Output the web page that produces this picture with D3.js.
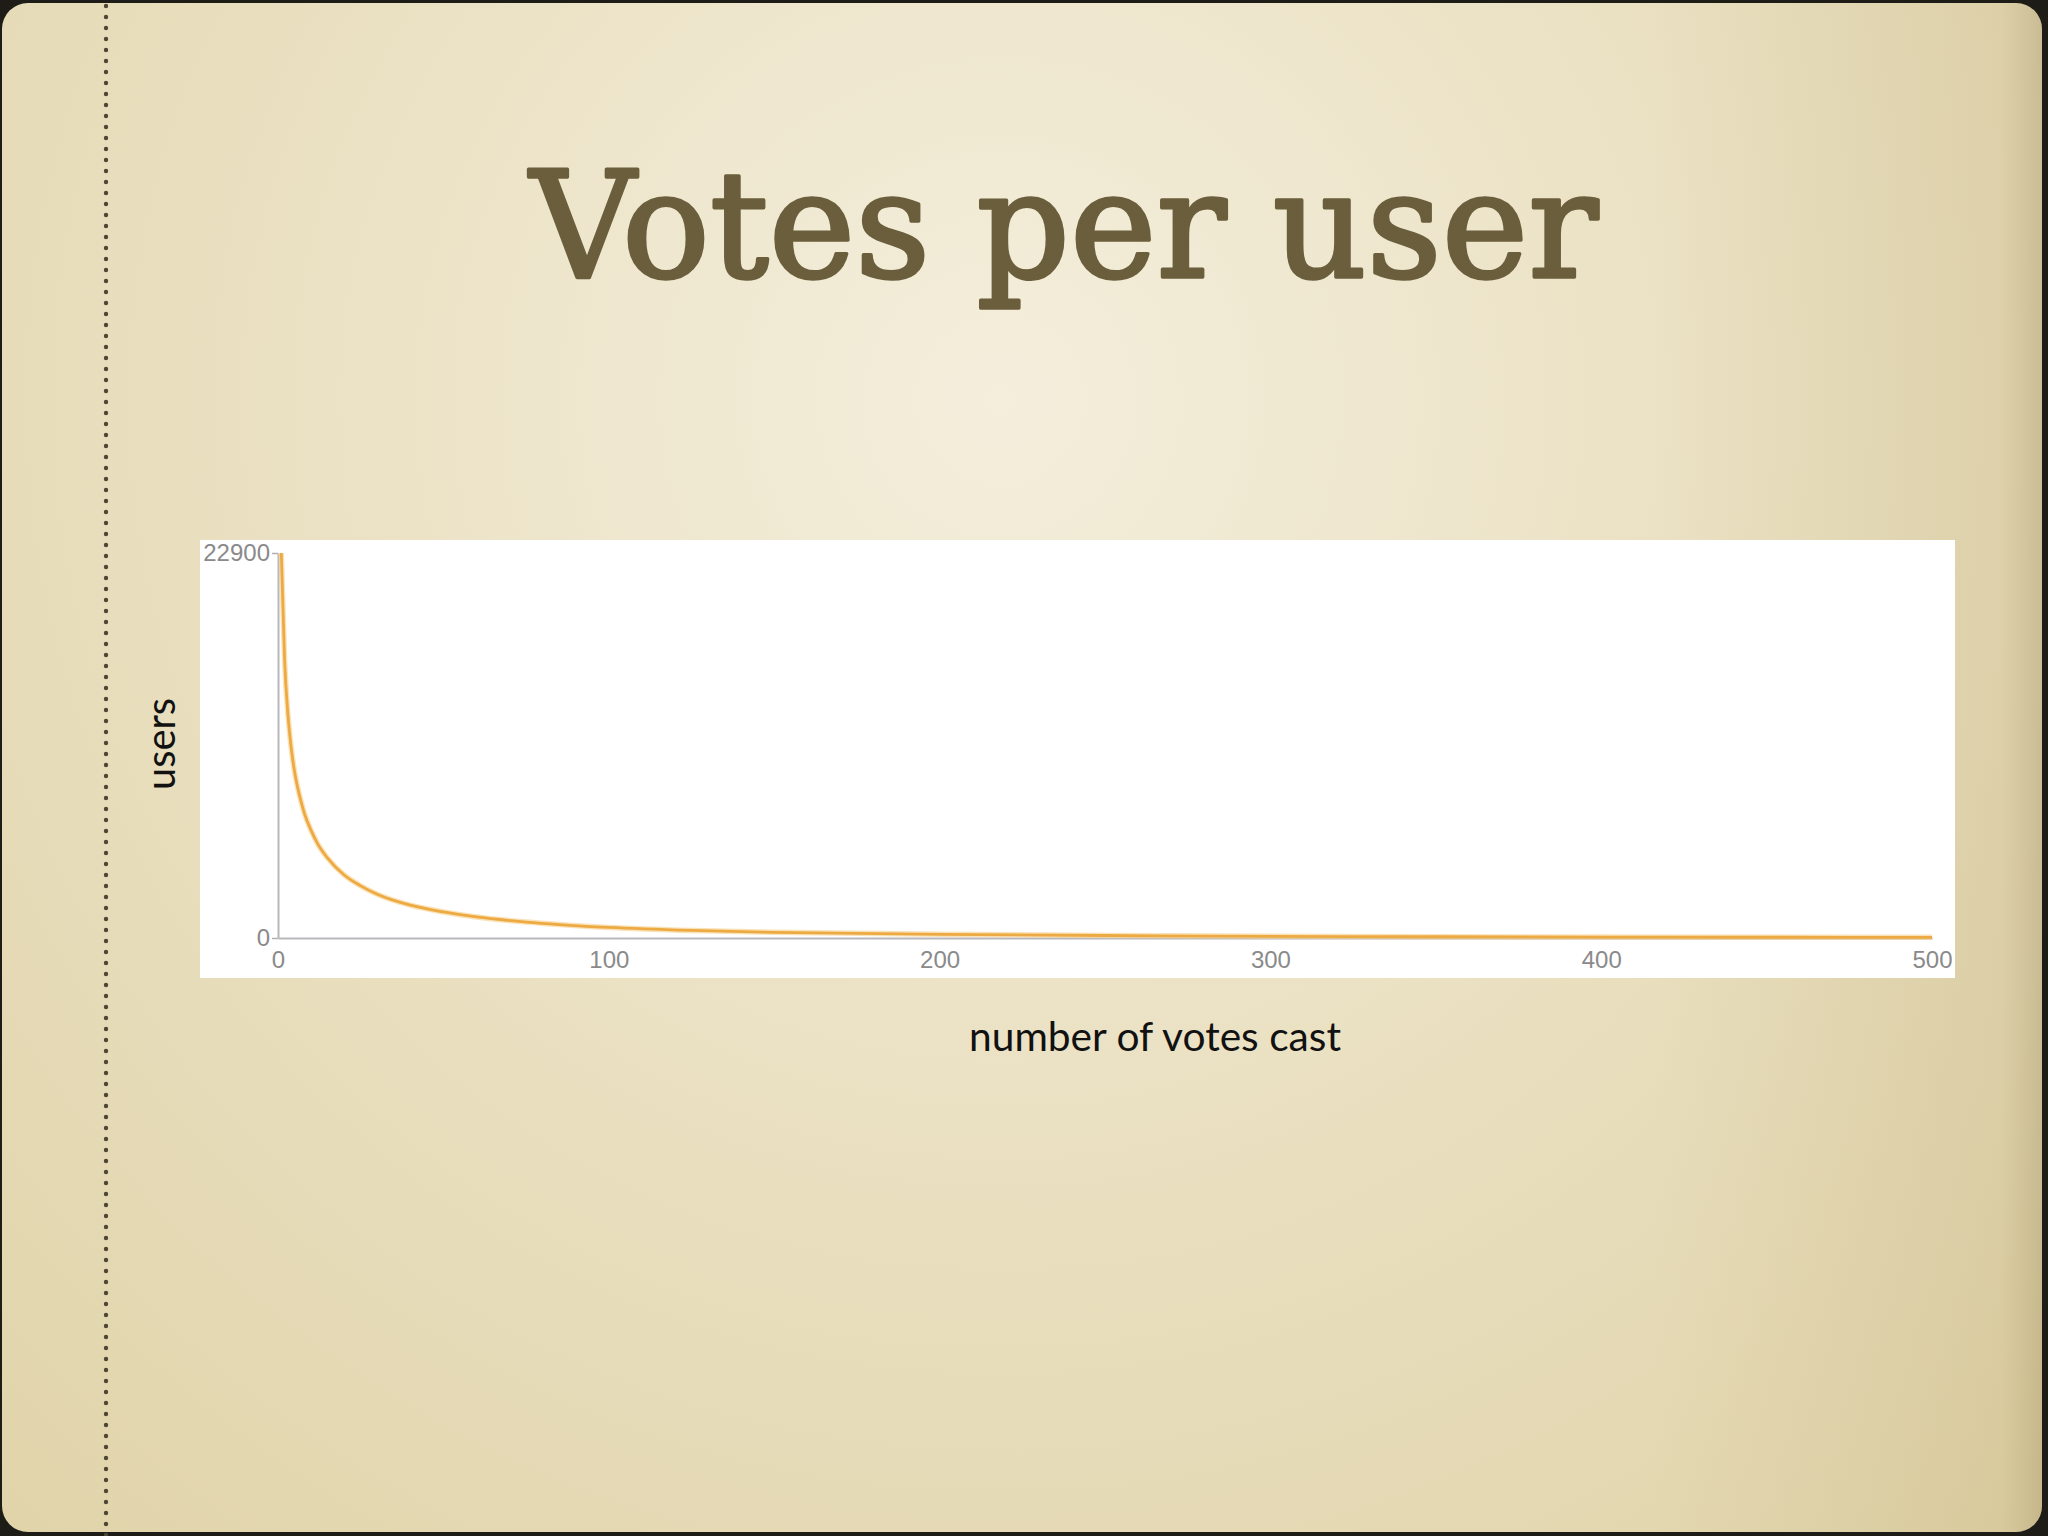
<!DOCTYPE html>
<html>
<head>
<meta charset="utf-8">
<script src="https://cdn.jsdelivr.net/npm/d3@7"></script>
<style>
  html, body { margin: 0; padding: 0; background: #1e1c17; }
  svg { display: block; }
</style>
</head>
<body>
<svg id="chart" width="2048" height="1536"></svg>
<script>
// ---- data ----
const titleText = "Votes per user";
const xLabel = "number of votes cast";
const yLabel = "users";
const votes = [1, 2, 3, 4, 5, 6, 7, 8, 10, 12, 15, 20, 25, 30, 40, 50, 60, 75, 85, 100, 125, 150, 200, 250, 300, 350, 400, 450, 500];
const users = [22900, 16500, 13300, 11300, 9900, 8900, 8100, 7400, 6400, 5600, 4750, 3750, 3100, 2600, 1950, 1550, 1250, 950, 800, 630, 450, 340, 220, 150, 100, 75, 58, 46, 38];
const xTicks = [0, 100, 200, 300, 400, 500];
const yTicks = [0, 22900];

const svg = d3.select("#chart");
const defs = svg.append("defs");

const bg = defs.append("radialGradient").attr("id", "bg")
  .attr("gradientUnits", "userSpaceOnUse")
  .attr("cx", 1000).attr("cy", 400).attr("r", 1500);
bg.append("stop").attr("offset", "0%").attr("stop-color", "#f4eedc");
bg.append("stop").attr("offset", "55%").attr("stop-color", "#e9dfbf");
bg.append("stop").attr("offset", "100%").attr("stop-color", "#e1d4aa");

const edge = defs.append("linearGradient").attr("id", "edge")
  .attr("gradientUnits", "userSpaceOnUse")
  .attr("x1", 1650).attr("y1", 0).attr("x2", 2048).attr("y2", 0);
edge.append("stop").attr("offset", "0%").attr("stop-color", "#9a8040").attr("stop-opacity", 0);
edge.append("stop").attr("offset", "88%").attr("stop-color", "#9a8040").attr("stop-opacity", 0.12);
edge.append("stop").attr("offset", "100%").attr("stop-color", "#6a5525").attr("stop-opacity", 0.26);

// slide
svg.append("rect").attr("x", 0).attr("y", 0).attr("width", 2048).attr("height", 1536)
  .attr("fill", "#1e1c17");
svg.append("rect").attr("x", 2).attr("y", 3).attr("width", 2040).attr("height", 1529)
  .attr("rx", 26).attr("ry", 26).attr("fill", "url(#bg)");
svg.append("rect").attr("x", 2).attr("y", 3).attr("width", 2040).attr("height", 1529)
  .attr("rx", 26).attr("ry", 26).attr("fill", "url(#edge)");

// dotted margin line
const dots = d3.range(6, 1536, 11);
svg.append("g").selectAll("circle").data(dots).join("circle")
  .attr("cx", 106).attr("cy", d => d).attr("r", 2.2).attr("fill", "#4d4634");

// title
svg.append("text").text(titleText)
  .attr("x", 1064).attr("y", 277)
  .attr("text-anchor", "middle")
  .attr("font-family", "'DejaVu Serif', serif")
  .attr("font-size", 148)
  .attr("textLength", 1068).attr("lengthAdjust", "spacingAndGlyphs")
  .attr("fill", "#6b5e3c")
  .attr("stroke", "#6b5e3c").attr("stroke-width", 3.5).attr("stroke-linejoin", "round");

// chart white panel
svg.append("rect").attr("x", 200).attr("y", 540).attr("width", 1755).attr("height", 438)
  .attr("fill", "#ffffff");

const x = d3.scaleLinear().domain([0, 500]).range([278, 1932]);
const y = d3.scaleLinear().domain([0, 22900]).range([938, 553]);

// axes
const xAxis = svg.append("g").attr("transform", `translate(0,${y(0)})`)
  .call(d3.axisBottom(x).tickValues(xTicks).tickSize(0).tickPadding(13).tickFormat(d3.format("d")));
xAxis.select(".domain").attr("stroke", "#b8b8bc").attr("stroke-width", 2);
xAxis.selectAll("text").attr("font-family", "'Liberation Sans', Arial, sans-serif")
  .attr("font-size", 24).attr("fill", "#8a8a8a");

const yAxis = svg.append("g").attr("transform", `translate(${x(0)},0)`)
  .call(d3.axisLeft(y).tickValues(yTicks).tickSize(6).tickPadding(2).tickSizeOuter(0).tickFormat(d3.format("d")));
yAxis.select(".domain").attr("stroke", "#b8b8bc").attr("stroke-width", 2);
yAxis.selectAll("line").attr("stroke", "#b0b0b0").attr("stroke-width", 1.5);
yAxis.selectAll("text").attr("font-family", "'Liberation Sans', Arial, sans-serif")
  .attr("font-size", 24).attr("fill", "#8a8a8a");

// curve
const data = votes.map((v, i) => ({ v, u: users[i] }));
const line = d3.line().x(d => x(d.v)).y(d => y(d.u)).curve(d3.curveMonotoneX);
svg.append("path").datum(data).attr("d", line)
  .attr("fill", "none").attr("stroke", "#f6cf88").attr("stroke-width", 5.5).attr("stroke-opacity", 0.6);
svg.append("path").datum(data).attr("d", line)
  .attr("fill", "none").attr("stroke", "#eeaa42").attr("stroke-width", 2.8);

// axis titles
svg.append("text").text(xLabel)
  .attr("x", 1155).attr("y", 1051).attr("text-anchor", "middle")
  .attr("font-family", "Lato, 'Open Sans', sans-serif").attr("font-size", 40)
  .attr("textLength", 372).attr("lengthAdjust", "spacingAndGlyphs")
  .attr("fill", "#111");
svg.append("text").text(yLabel)
  .attr("transform", "translate(175,744) rotate(-90)").attr("text-anchor", "middle")
  .attr("font-family", "Lato, 'Open Sans', sans-serif").attr("font-size", 40)
  .attr("textLength", 92).attr("lengthAdjust", "spacingAndGlyphs")
  .attr("fill", "#111");
</script>
</body>
</html>
